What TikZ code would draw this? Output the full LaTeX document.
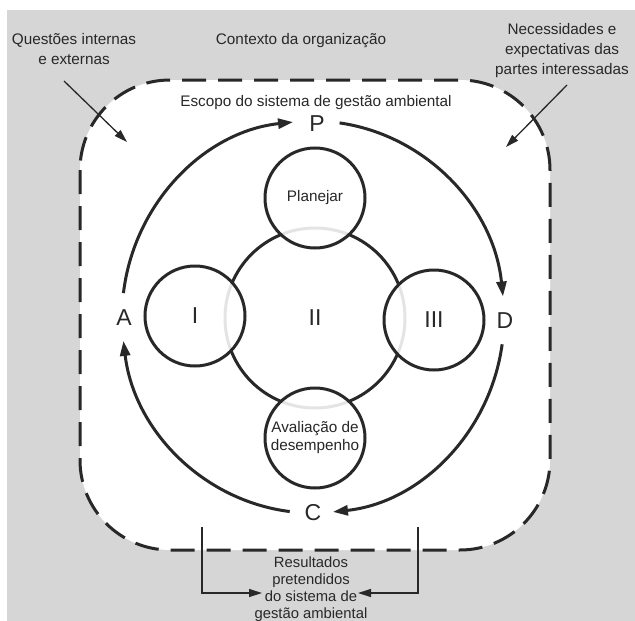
\documentclass[tikz,border=0pt]{standalone}
\usepackage{fontspec}
\setmainfont{Liberation Sans}
\usetikzlibrary{arrows.meta, calc}

\definecolor{scangray}{RGB}{214,214,214}
\definecolor{ink}{RGB}{40,40,40}

\begin{document}
\begin{tikzpicture}[x=1pt, y=-1pt,
  txt/.style={text=ink, font=\fontsize{15.3}{20}\selectfont, align=center},
  letter/.style={text=ink, font=\fontsize{23}{23}\selectfont},
  blob/.style={circle, draw=ink, line width=3pt, fill=white, fill opacity=0.88, text opacity=1,
    minimum size=100pt, inner sep=0pt, align=center, text=ink, font=\fontsize{15.3}{18}\selectfont},
  cyc/.style={draw=ink, line width=3pt, -{Triangle[length=15pt, width=10pt]}},
  feed/.style={draw=ink, line width=1.3pt, -{Triangle[length=13pt, width=8pt]}}]
\useasboundingbox (0,0) rectangle (635,621);

%the background
\fill[white] (0,0) rectangle (635,621);
\fill[scangray] (7,10) rectangle (635,621);
\fill[white, rounded corners=90pt] (80,80) rectangle (550,550);
\draw[ink, line width=3pt, dash pattern=on 24pt off 12pt, rounded corners=90pt] (80,80) rectangle (550,550);

%the texts around
\node[txt] (qi) at (74,49) {Questões internas\\e externas};
\node[txt] (ctx) at (301,41) {Contexto da organização};
\node[txt] (need) at (562,51) {Necessidades e\\expectativas das\\partes interessadas};
\node[txt] (scope) at (316,103) {Escopo do sistema de gestão ambiental};
\node[txt, font=\fontsize{14.8}{17}\selectfont] (res) at (311,589) {Resultados\\pretendidos\\do sistema de\\gestão ambiental};

%the system
\node[circle, draw=ink, line width=3pt, minimum size=180pt, inner sep=0pt, letter] (sys) at (315,318) {II};
\node[blob] (plan) at (315,198) {Planejar};
\node[blob] (aval) at (315,438) {Avaliação de\\desempenho};
\node[blob, letter] (one) at (195,316) {I};
\node[blob, letter] (three) at (434,320) {III};

%the cycle
\node[letter] (P) at (317,124) {P};
\node[letter] (A) at (124,318) {A};
\node[letter] (D) at (505,321) {D};
\node[letter] (C) at (313,513) {C};
\coordinate (ctr) at (313,317);
\draw[cyc] ($(ctr)+(-173:191 and 196)$) arc[start angle=-173, end angle=-96, x radius=191, y radius=196];
\draw[cyc] ($(ctr)+(-82:191 and 196)$) arc[start angle=-82, end angle=-6, x radius=191, y radius=196];
\draw[cyc] ($(ctr)+(8:191 and 196)$) arc[start angle=8, end angle=84, x radius=191, y radius=196];
\draw[cyc] ($(ctr)+(97:191 and 196)$) arc[start angle=97, end angle=173, x radius=191, y radius=196];

%the inputs and outputs
\coordinate (qitail) at (64,81);
\coordinate (qihead) at (127,142);
\coordinate (needtail) at (567,85);
\coordinate (needhead) at (506,147);
\coordinate (lfoot) at (202,527);
\coordinate (lhead) at (262,593);
\coordinate (rfoot) at (418,527);
\coordinate (rhead) at (358,593);
\draw[feed] (qitail) -- (qihead);
\draw[feed] (needtail) -- (needhead);
\draw[feed] (lfoot) |- (lhead);
\draw[feed] (rfoot) |- (rhead);
\end{tikzpicture}
\end{document}
